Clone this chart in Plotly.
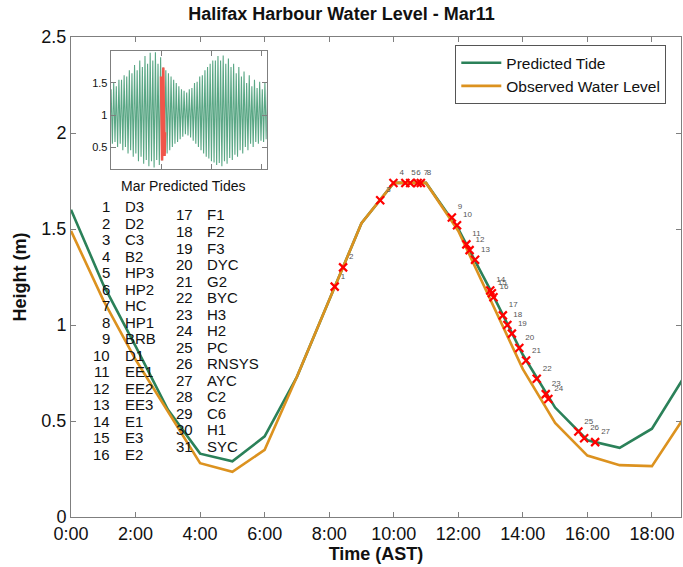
import plotly.graph_objects as go

# Mar 11 hourly water levels (m), 0:00 .. 19:00 AST
hours = list(range(0, 20))
predicted = [1.60, 1.21, 0.89, 0.56, 0.33, 0.29, 0.42, 0.73, 1.13, 1.53,
             1.74, 1.74, 1.50, 1.18, 0.845, 0.57, 0.40, 0.36, 0.46, 0.73]
observed = [1.49, 1.13, 0.82, 0.55, 0.28, 0.235, 0.35, 0.73, 1.13, 1.53,
            1.74, 1.74, 1.49, 1.13, 0.77, 0.49, 0.32, 0.27, 0.265, 0.52]

tick_hours = [0, 2, 4, 6, 8, 10, 12, 14, 16, 18]
tick_text = ["0:00", "2:00", "4:00", "6:00", "8:00", "10:00", "12:00", "14:00", "16:00", "18:00"]
height_ticks = [0, 0.5, 1, 1.5, 2, 2.5]

# station list
station_names = ["D3", "D2", "C3", "B2", "HP3", "HP2", "HC", "HP1", "BRB", "D1",
                 "EE1", "EE2", "EE3", "E1", "E3", "E2", "F1", "F2", "F3", "DYC",
                 "G2", "BYC", "H3", "H2", "PC", "RNSYS", "AYC", "C2", "C6", "H1", "SYC"]

# red crosses: when each station was visited (hour) and the tide then
visit_hours = [8.17, 8.43, 9.58, 9.99, 10.36, 10.51, 10.74, 10.84, 11.80, 11.96,
               12.25, 12.35, 12.52, 12.99, 13.04, 13.09, 13.38, 13.52, 13.66, 13.89,
               14.10, 14.43, 14.71, 14.79, 15.72, 15.90, 16.24]
visit_levels = [1.20, 1.30, 1.65, 1.74, 1.74, 1.74, 1.74, 1.74, 1.56, 1.52,
                1.42, 1.39, 1.34, 1.18, 1.165, 1.145, 1.05, 1.00, 0.955, 0.88,
                0.815, 0.72, 0.64, 0.615, 0.445, 0.41, 0.39]
visit_ids = [str(i) for i in range(1, 28)]

# inset: March predicted high / low waters (m), two of each per day
mar_highs = [1.40, 1.50, 1.45, 1.55, 1.55, 1.62, 1.60, 1.70, 1.65, 1.78,
             1.70, 1.85, 1.75, 1.92, 1.80, 1.97, 1.85, 1.98, 1.80, 1.90,
             1.74, 1.70, 1.65, 1.60, 1.55, 1.50, 1.45, 1.40, 1.38, 1.35,
             1.40, 1.42, 1.50, 1.52, 1.60, 1.62, 1.70, 1.75, 1.80, 1.85,
             1.85, 1.92, 1.85, 1.93, 1.80, 1.88, 1.75, 1.80, 1.65, 1.75,
             1.60, 1.68, 1.50, 1.62, 1.45, 1.55, 1.42, 1.52, 1.40, 1.50,
             1.40, 1.45]
mar_lows = [0.62, 0.55, 0.58, 0.50, 0.55, 0.45, 0.50, 0.40, 0.45, 0.35,
            0.40, 0.28, 0.35, 0.24, 0.30, 0.20, 0.28, 0.18, 0.30, 0.22,
            0.29, 0.36, 0.40, 0.45, 0.50, 0.55, 0.58, 0.62, 0.66, 0.70,
            0.68, 0.65, 0.60, 0.55, 0.50, 0.45, 0.40, 0.35, 0.32, 0.28,
            0.26, 0.22, 0.25, 0.20, 0.28, 0.24, 0.33, 0.30, 0.38, 0.35,
            0.45, 0.40, 0.50, 0.45, 0.55, 0.50, 0.58, 0.55, 0.60, 0.58,
            0.62, 0.60]
inset_ticks = [0.5, 1, 1.5]

FONT = "Liberation Sans, Arial, sans-serif"
GREEN = "#2b8159"
ORANGE = "#dc921f"
AXIS_GREY = "#7f7f7f"

# semidiurnal cycle of 12.42 h, first high at 2.1 h after Mar 1 0:00
inset_t, inset_v = [], []
for i in range(len(mar_highs)):
    t_high = 2.1 + 12.42 * i
    inset_t += [t_high - 6.21, t_high]
    inset_v += [mar_lows[i], mar_highs[i]]

fig = go.Figure()

fig.add_trace(go.Scatter(x=hours, y=predicted, mode="lines", name="Predicted Tide",
                         line=dict(color=GREEN, width=2.6)))
fig.add_trace(go.Scatter(x=hours, y=observed, mode="lines", name="Observed Water Level",
                         line=dict(color=ORANGE, width=2.6)))
fig.add_trace(go.Scatter(x=visit_hours, y=visit_levels, mode="markers+text",
                         text=visit_ids, textposition="top right",
                         textfont=dict(size=8, color="#555555", family=FONT),
                         marker=dict(symbol="x-thin", size=8, line=dict(color="red", width=2.2)),
                         showlegend=False))

# inset of the whole month
fig.add_trace(go.Scatter(x=inset_t, y=inset_v, mode="lines", xaxis="x2", yaxis="y2",
                         line=dict(color="#5aa785", width=1.1), showlegend=False))
fig.add_trace(go.Scatter(x=[240 + h for h in hours], y=predicted, mode="lines",
                         xaxis="x2", yaxis="y2",
                         line=dict(color="#f0554a", width=2.5), showlegend=False))

# station list in two columns
annotations = []
for i, name in enumerate(station_names):
    if i < 16:
        xn, xs, y = 1.28, 1.62, 1.616 - 0.086 * i
    else:
        xn, xs, y = 3.85, 4.16, 1.573 - 0.086 * (i - 16)
    annotations.append(dict(x=xn, y=y, xref="x", yref="y", text=str(i + 1), showarrow=False,
                            xanchor="right", yanchor="middle",
                            font=dict(size=15, color="#111111", family=FONT)))
    annotations.append(dict(x=xs, y=y, xref="x", yref="y", text=name, showarrow=False,
                            xanchor="left", yanchor="middle",
                            font=dict(size=15, color="#111111", family=FONT)))

annotations.append(dict(x=0.185, y=0.69, xref="paper", yref="paper", text="Mar Predicted Tides",
                        showarrow=False, xanchor="center", yanchor="middle",
                        font=dict(size=14, color="#111111", family=FONT)))

axis_common = dict(showline=True, linecolor=AXIS_GREY, linewidth=1, mirror="ticks",
                   ticks="inside", tickcolor=AXIS_GREY, ticklen=5, showgrid=False,
                   zeroline=False)

fig.update_layout(
    width=683, height=567, autosize=False,
    margin=dict(l=71, r=2, t=37, b=50),
    paper_bgcolor="white", plot_bgcolor="white",
    font=dict(family=FONT, color="#111111"),
    title=dict(text="<b>Halifax Harbour Water Level - Mar11</b>", x=0.5, xanchor="center",
               y=0.975, yanchor="middle", font=dict(size=18, family=FONT)),
    xaxis=dict(range=[0, 18.9], tickvals=tick_hours, ticktext=tick_text,
               tickfont=dict(size=18), title=dict(text="<b>Time (AST)</b>", font=dict(size=18), standoff=0),
               **axis_common),
    yaxis=dict(range=[0, 2.5], tickvals=height_ticks, tickfont=dict(size=18),
               title=dict(text="<b>Height (m)</b>", font=dict(size=18), standoff=10),
               **axis_common),
    xaxis2=dict(domain=[0.065, 0.321], anchor="y2", range=[0, 744], showticklabels=False,
                tickvals=[240, 480, 720], **axis_common),
    yaxis2=dict(domain=[0.724, 0.971], anchor="x2", range=[0.15, 2.0], tickvals=inset_ticks,
                tickfont=dict(size=11), **axis_common),
    legend=dict(x=0.63, y=0.983, xanchor="left", yanchor="top", bgcolor="white",
                bordercolor="#555555", borderwidth=1, font=dict(size=15.5, family=FONT),
                tracegroupgap=0, itemwidth=40),
    annotations=annotations,
)

# page body has a default 8px margin; drop it so the figure fills the window
fig.write_html("out.html", config={"displayModeBar": False},
               post_script="document.body.style.margin='0';")
